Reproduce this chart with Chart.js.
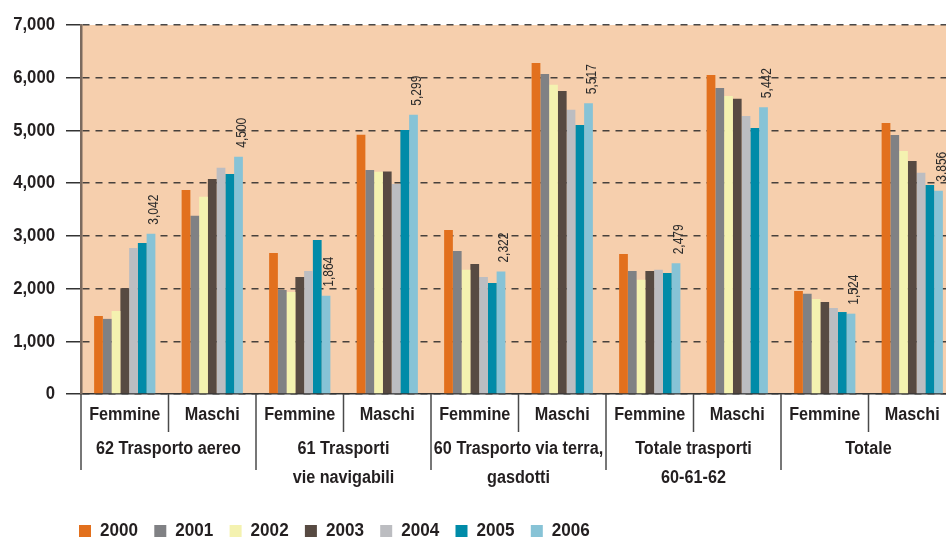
<!DOCTYPE html>
<html>
<head>
<meta charset="utf-8">
<script src="https://cdn.jsdelivr.net/npm/chart.js@4.4.1/dist/chart.umd.min.js"></script>
<style>
  html, body { margin:0; padding:0; background:#fff; overflow:hidden; width:946px; height:540px; }
  canvas { display:block; }
</style>
</head>
<body>
<canvas id="chart" width="960" height="540"></canvas>
<script>
// ---- DATI ----
const sessi = ['Femmine','Maschi','Femmine','Maschi','Femmine','Maschi','Femmine','Maschi','Femmine','Maschi'];
const gruppi = [['62 Trasporto aereo'], ['61 Trasporti','vie navigabili'], ['60 Trasporto via terra,','gasdotti'], ['Totale trasporti','60-61-62'], ['Totale']];
const anni = ['2000','2001','2002','2003','2004','2005','2006'];
const colori = ['#e2701d','#808184','#f4f2b0','#574a42','#bcbdc1','#008ba8','#87c3d6'];

const v2000 = [1480, 3870, 2675, 4920, 3110, 6280, 2655, 6050, 1955, 5140];
const v2001 = [1425, 3380, 1975, 4250, 2715, 6070, 2335, 5805, 1900, 4915];
const v2002 = [1575, 3740, 1935, 4215, 2355, 5865, 2165, 5655, 1800, 4610];
const v2003 = [2005, 4080, 2220, 4220, 2465, 5750, 2335, 5600, 1745, 4420];
const v2004 = [2770, 4290, 2335, 3985, 2220, 5390, 2355, 5275, 1630, 4195];
const v2005 = [2865, 4175, 2920, 5010, 2105, 5105, 2295, 5045, 1555, 3965];
const v2006 = [3042, 4500, 1864, 5299, 2322, 5517, 2479, 5442, 1524, 3856];
const serie = [v2000, v2001, v2002, v2003, v2004, v2005, v2006];

const yTicks = [0, 1000, 2000, 3000, 4000, 5000, 6000, 7000];

const FONT = '"Liberation Sans", Arial, sans-serif';
const INK = '#231f20';
function fmt(n){ return n.toString().replace(/\B(?=(\d{3})+(?!\d))/g, ','); }

// testo "condensato": scala orizzontale
function narrowText(ctx, txt, x, y, sx){
  ctx.save();
  ctx.translate(x, y);
  ctx.scale(sx, 1);
  ctx.fillText(txt, 0, 0);
  ctx.restore();
}

// ---- PLUGIN: sfondo area, etichette, divisori, legenda ----
const decor = {
  id: 'decor',
  beforeDraw(chart){
    const a = chart.chartArea, ctx = chart.ctx;
    ctx.save();
    ctx.fillStyle = '#f6cfad';
    ctx.fillRect(a.left, a.top, a.right - a.left, a.bottom - a.top);
    ctx.restore();
  },
  afterDatasetsDraw(chart){
    // valori 2006 ruotati sopra l'ultima barra
    const ctx = chart.ctx;
    const meta = chart.getDatasetMeta(anni.length - 1);
    ctx.save();
    ctx.fillStyle = '#2b2b2b';
    ctx.font = '15px ' + FONT;
    ctx.textAlign = 'left';
    ctx.textBaseline = 'middle';
    meta.data.forEach((bar, i) => {
      ctx.save();
      ctx.translate(bar.x + 3, bar.y - 9);
      ctx.rotate(-Math.PI/2);
      narrowText(ctx, fmt(v2006[i]), 0, 0, 0.8);
      ctx.restore();
    });
    ctx.restore();
  },
  afterDraw(chart){
    const ctx = chart.ctx, x = chart.scales.x, y = chart.scales.y, a = chart.chartArea;
    const half = (x.getPixelForValue(1) - x.getPixelForValue(0)) / 2;
    ctx.save();
    // etichette asse y
    ctx.fillStyle = INK;
    ctx.font = 'bold 19px ' + FONT;
    ctx.textAlign = 'right';
    ctx.textBaseline = 'middle';
    yTicks.forEach(v => narrowText(ctx, fmt(v), 55, y.getPixelForValue(v), 0.88));
    // divisori
    ctx.strokeStyle = '#4a4a4a';
    ctx.lineWidth = 1.5;
    for(let i = 0; i <= sessi.length; i++){
      const px = (i < sessi.length ? x.getPixelForValue(i) : x.getPixelForValue(i - 1) + 2*half) - half;
      const long = i % 2 === 0;
      ctx.beginPath();
      ctx.moveTo(px, a.bottom);
      ctx.lineTo(px, long ? 470 : 432);
      ctx.stroke();
    }
    // etichette sesso
    ctx.font = 'bold 18px ' + FONT;
    ctx.textAlign = 'center';
    sessi.forEach((s, i) => narrowText(ctx, s, x.getPixelForValue(i), 415, 0.9));
    // etichette gruppi
    gruppi.forEach((g, k) => {
      const cx = (x.getPixelForValue(2*k) + x.getPixelForValue(2*k + 1)) / 2;
      g.forEach((line, j) => narrowText(ctx, line, cx, 449 + j*29, 0.9));
    });
    // legenda
    ctx.font = 'bold 19px ' + FONT;
    ctx.textAlign = 'left';
    anni.forEach((anno, i) => {
      const lx = 79 + i*75.3;
      ctx.fillStyle = colori[i];
      ctx.fillRect(lx, 525, 12, 12);
      ctx.fillStyle = INK;
      narrowText(ctx, anno, lx + 21, 531, 0.9);
    });
    ctx.restore();
  }
};

new Chart(document.getElementById('chart'), {
  type: 'bar',
  data: {
    labels: sessi,
    datasets: anni.map((anno, i) => ({
      label: anno,
      data: serie[i],
      backgroundColor: colori[i],
      borderWidth: 0,
      categoryPercentage: 0.7,
      barPercentage: 1.0
    }))
  },
  options: {
    responsive: false,
    animation: false,
    layout: { padding: { top: 25, right: 4, left: 0, bottom: 0 } },
    plugins: { legend: { display: false }, tooltip: { enabled: false } },
    scales: {
      x: {
        grid: { display: false, drawTicks: false },
        ticks: { display: false },
        border: { display: true, color: '#333333', width: 1.5 },
        afterFit(scale){ scale.height = 146; }
      },
      y: {
        min: 0, max: 7000,
        afterBuildTicks(scale){ scale.ticks = yTicks.map(v => ({ value: v })); },
        ticks: { display: false },
        grid: {
          color: 'rgba(40,40,40,0.85)',
          lineWidth: 1.5,
          tickLength: 15,
          tickColor: '#333333',
          tickWidth: 1.5,
          tickBorderDash: []
        },
        border: { display: true, color: '#7b6a5e', width: 2.5, dash: [7, 6] },
        afterFit(scale){ scale.width = 81; }
      }
    }
  },
  plugins: [decor]
});
</script>
</body>
</html>
